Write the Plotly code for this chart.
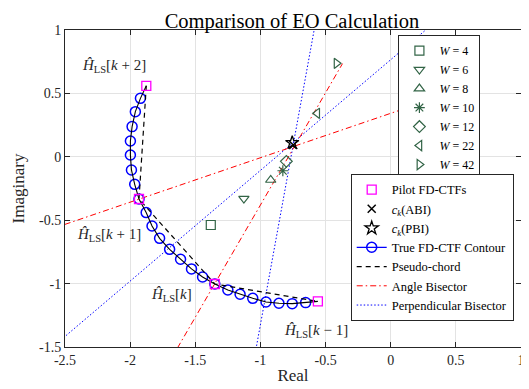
import plotly.graph_objects as go

# ---- data ----
pilot_x = [-1.876, -1.932, -1.350, -0.559]
pilot_y = [0.560, -0.333, -1.003, -1.140]

contour_x = [-1.876,
             -1.921, -1.960, -1.985, -1.998, -1.998, -1.990, -1.965,
             -1.932,
             -1.877, -1.832, -1.774, -1.697, -1.613, -1.529, -1.444,
             -1.350,
             -1.250, -1.156, -1.059, -0.957, -0.858, -0.756, -0.653,
             -0.559]
contour_y = [0.560,
             0.461, 0.356, 0.238, 0.125, 0.014, -0.104, -0.217,
             -0.333,
             -0.440, -0.546, -0.643, -0.730, -0.808, -0.884, -0.948,
             -1.003,
             -1.050, -1.084, -1.116, -1.145, -1.155, -1.158, -1.150,
             -1.140]

W_labels = ["4", "6", "8", "10", "12", "22", "42"]
W_x = [-1.381, -1.127, -0.921, -0.828, -0.801, -0.564, -0.416]
W_y = [-0.538, -0.330, -0.183, -0.110, -0.036, 0.343, 0.737]
W_symbols = ["square-open", "triangle-down-open", "triangle-up-open", "asterisk-open",
             "diamond-open", "triangle-left-open", "triangle-right-open"]

abi_x, abi_y = [-0.748], [0.093]
pbi_x, pbi_y = [-0.756], [0.111]

# angle bisector segments (x pairs, y pairs)
ang1_x, ang1_y = [-2.6, 0.30], [-0.568, 0.448]
ang2_x, ang2_y = [-1.689, -0.370], [-1.600, 0.735]
# perpendicular bisector segments
perp1_x, perp1_y = [-1.049, -0.570], [-1.600, 1.100]
perp2_x, perp2_y = [-2.615, 0.383], [-1.517, 1.100]

x_ticks = [-2.5, -2, -1.5, -1, -0.5, 0, 0.5, 1]
x_ticktext = ["-2.5", "-2", "-1.5", "-1", "-0.5", "0", "0.5", "1"]
y_ticks = [-1.5, -1, -0.5, 0, 0.5, 1]
y_ticktext = ["-1.5", "-1", "-0.5", "0", "0.5", "1"]

labels_text = ["<i>Ĥ</i><sub>LS</sub>[<i>k</i> + 2]", "<i>Ĥ</i><sub>LS</sub>[<i>k</i> + 1]",
               "<i>Ĥ</i><sub>LS</sub>[<i>k</i>]", "<i>Ĥ</i><sub>LS</sub>[<i>k</i> − 1]"]
labels_x = [-2.121, -2.159, -1.685, -0.574]
labels_y = [0.716, -0.617, -1.090, -1.371]

FONT = "Liberation Serif, Times New Roman, serif"
GREEN = "rgb(50,100,70)"
DASH = "5px,4px"
DASHDOT = "6px,3px,1.5px,3px"
DOT = "1.5px,2px"

fig = go.Figure()

# lines first
fig.add_trace(go.Scatter(x=perp1_x, y=perp1_y, mode="lines", line=dict(color="blue", width=1, dash=DOT),
                         showlegend=False, legend="legend2"))
fig.add_trace(go.Scatter(x=perp2_x, y=perp2_y, mode="lines", line=dict(color="blue", width=1, dash=DOT),
                         showlegend=False, legend="legend2"))
fig.add_trace(go.Scatter(x=ang1_x, y=ang1_y, mode="lines", line=dict(color="red", width=1, dash=DASHDOT),
                         showlegend=False, legend="legend2"))
fig.add_trace(go.Scatter(x=ang2_x, y=ang2_y, mode="lines", line=dict(color="red", width=1, dash=DASHDOT),
                         showlegend=False, legend="legend2"))

# W markers
for lab, xx, yy, sym in zip(W_labels, W_x, W_y, W_symbols):
    fig.add_trace(go.Scatter(x=[xx], y=[yy], mode="markers", name="<i>W</i> = " + lab,
                             marker=dict(symbol=sym, size=9, color=GREEN, line=dict(color=GREEN, width=1.2)),
                             legend="legend"))

# contour
fig.add_trace(go.Scatter(x=contour_x[1:-1], y=contour_y[1:-1], mode="markers",
                         marker=dict(symbol="circle-open", size=10, color="blue", line=dict(width=1.5, color="blue")),
                         showlegend=False, legend="legend2"))
fig.add_trace(go.Scatter(x=contour_x, y=contour_y, mode="lines", line=dict(color="black", width=1.1),
                         showlegend=False, legend="legend2"))
# pseudo chord
fig.add_trace(go.Scatter(x=pilot_x, y=pilot_y, mode="lines", line=dict(color="black", width=1.2, dash=DASH),
                         showlegend=False, legend="legend2"))
# pilots
fig.add_trace(go.Scatter(x=pilot_x, y=pilot_y, mode="markers", name="Pilot FD-CTFs",
                         marker=dict(symbol="square-open", size=9, color="magenta", line=dict(width=1.3, color="magenta")),
                         legend="legend2"))
fig.add_trace(go.Scatter(x=abi_x, y=abi_y, mode="markers", name="<i>c<sub>k</sub></i>(ABI)",
                         marker=dict(symbol="x-thin-open", size=8, color="black", line=dict(width=1.5, color="black")),
                         legend="legend2"))
fig.add_trace(go.Scatter(x=pbi_x, y=pbi_y, mode="markers", name="<i>c<sub>k</sub></i>(PBI)",
                         marker=dict(symbol="star-open", size=10, color="black", line=dict(width=1.3, color="black")),
                         legend="legend2"))
# legend-only entries for the line styles
fig.add_trace(go.Scatter(x=[None], y=[None], mode="lines+markers", name="True FD-CTF Contour",
                         line=dict(color="blue", width=1.2),
                         marker=dict(symbol="circle-open", size=10, color="blue", line=dict(width=1.5, color="blue")),
                         legend="legend2"))
fig.add_trace(go.Scatter(x=[None], y=[None], mode="lines", name="Pseudo-chord",
                         line=dict(color="black", width=1.2, dash=DASH), legend="legend2"))
fig.add_trace(go.Scatter(x=[None], y=[None], mode="lines", name="Angle Bisector",
                         line=dict(color="red", width=1, dash=DASHDOT), legend="legend2"))
fig.add_trace(go.Scatter(x=[None], y=[None], mode="lines", name="Perpendicular Bisector",
                         line=dict(color="blue", width=1, dash=DOT), legend="legend2"))

for t, xx, yy in zip(labels_text, labels_x, labels_y):
    fig.add_annotation(x=xx, y=yy, text=t, showarrow=False, font=dict(family=FONT, size=15, color="#262626"))

axis_common = dict(showgrid=True, gridcolor="#e3e3e3", gridwidth=1, zeroline=False, automargin=False,
                   showline=True, linecolor="#262626", linewidth=1, mirror="ticks",
                   ticks="inside", ticklen=5, tickcolor="#262626",
                   tickfont=dict(family=FONT, size=14, color="#262626"))

# the page body has an 8px margin, so the figure is sized to fill the 529x389 window from (8, 8)
fig.update_layout(
    width=521, height=381,
    margin=dict(l=56.5, r=7.5, t=22, b=42),
    paper_bgcolor="white", plot_bgcolor="white",
    title=dict(text="Comparison of EO Calculation", x=0.545, xanchor="center", y=0.967, yanchor="middle",
               font=dict(family=FONT, size=20.5, color="black")),
    xaxis=dict(range=[-2.5, 1], tickvals=x_ticks, ticktext=x_ticktext,
               title=dict(text="Real", font=dict(family=FONT, size=17, color="#262626"), standoff=2),
               **axis_common),
    yaxis=dict(range=[-1.5, 1], tickvals=y_ticks, ticktext=y_ticktext,
               title=dict(text="Imaginary", font=dict(family=FONT, size=17, color="#262626"), standoff=10),
               **axis_common),
    legend=dict(x=0.911, y=0.984, xanchor="right", yanchor="top", bgcolor="white",
                bordercolor="#262626", borderwidth=1, font=dict(family=FONT, size=12, color="black"),
                itemwidth=30, tracegroupgap=0),
    legend2=dict(x=0.984, y=0.546, xanchor="right", yanchor="top", bgcolor="white",
                 bordercolor="#262626", borderwidth=1, font=dict(family=FONT, size=12.5, color="black"),
                 itemwidth=30, tracegroupgap=0),
)

fig.write_html("out.html")
